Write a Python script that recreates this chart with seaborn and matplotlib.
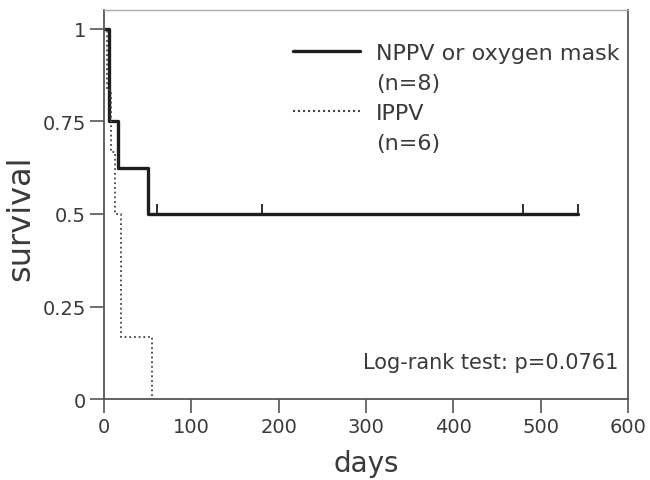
import numpy as np
import pandas as pd
import seaborn as sns
import matplotlib.pyplot as plt
from matplotlib.lines import Line2D

# Kaplan-Meier step data
nppv_days = [0, 6, 16, 50, 543]
nppv_surv = [1.0, 0.75, 0.625, 0.5, 0.5]
nppv_censor_days = [61, 181, 480, 543]
nppv_censor_surv = [0.5, 0.5, 0.5, 0.5]

ippv_days = [0, 4, 8, 13, 20, 55]
ippv_surv = [1.0, 0.833, 0.667, 0.5, 0.167, 0.0]

x_ticks = [0, 100, 200, 300, 400, 500, 600]
y_ticks = [0, 0.25, 0.5, 0.75, 1]
y_tick_labels = ["0", "0.25", "0.5", "0.75", "1"]

sns.set_theme(style="white")
plt.rcParams["font.family"] = ["DejaVu Sans"]

text_col = "#3a3a3a"
line_col = "#1e1e1e"

fig, ax = plt.subplots(figsize=(6.5, 4.81), dpi=100)
fig.subplots_adjust(left=0.16, right=0.966, top=0.977, bottom=0.168)

nppv = pd.DataFrame({"days": nppv_days, "survival": nppv_surv})
ippv = pd.DataFrame({"days": ippv_days, "survival": ippv_surv})

sns.lineplot(data=nppv, x="days", y="survival", ax=ax, drawstyle="steps-post",
             estimator=None, color=line_col, lw=2.4, legend=False)
sns.lineplot(data=ippv, x="days", y="survival", ax=ax, drawstyle="steps-post",
             estimator=None, color="#444444", lw=1.3, ls=(0, (1, 1.6)),
             legend=False)
ax.plot(nppv_censor_days, nppv_censor_surv, ls="none", marker=2, ms=7,
        mew=1.3, color=line_col)

ax.set_xlim(0, 600)
ax.set_ylim(0, 1.05)
ax.set_xticks(x_ticks)
ax.set_yticks(y_ticks)
ax.set_yticklabels(y_tick_labels)
ax.tick_params(axis="both", direction="out", length=10, width=1.2,
               color="#555555", labelsize=14, labelcolor=text_col, pad=3,
               bottom=True, left=True)

for side in ["left", "bottom", "right"]:
    ax.spines[side].set_color("#555555")
    ax.spines[side].set_linewidth(1.3)
ax.spines["top"].set_color("#aaaaaa")
ax.spines["top"].set_linewidth(1.0)

ax.set_xlabel("days", fontsize=20, color=text_col, labelpad=9)
ax.set_ylabel("survival", fontsize=23, color=text_col)
ax.yaxis.set_label_coords(-0.13, 0.468)

# legend: group names with the n on a second, handle-less row
h_nppv = Line2D([], [], color=line_col, lw=2.4)
h_ippv = Line2D([], [], color="#444444", lw=1.5, ls=(0, (1, 1.4)))
h_none = Line2D([], [], color="none")
ax.legend([h_nppv, h_none, h_ippv, h_none],
          ["NPPV or oxygen mask", "(n=8)", "IPPV", "(n=6)"],
          loc="upper left", bbox_to_anchor=(0.361, 0.915), frameon=False,
          fontsize=16, handlelength=3.0, handletextpad=0.72,
          labelspacing=0.45, labelcolor=text_col, borderpad=0,
          borderaxespad=0)

ax.text(0.981, 0.10 / 1.05, "Log-rank test: p=0.0761", transform=ax.transAxes,
        ha="right", va="center", fontsize=15, color=text_col)

fig.savefig("out.png", dpi=100)
